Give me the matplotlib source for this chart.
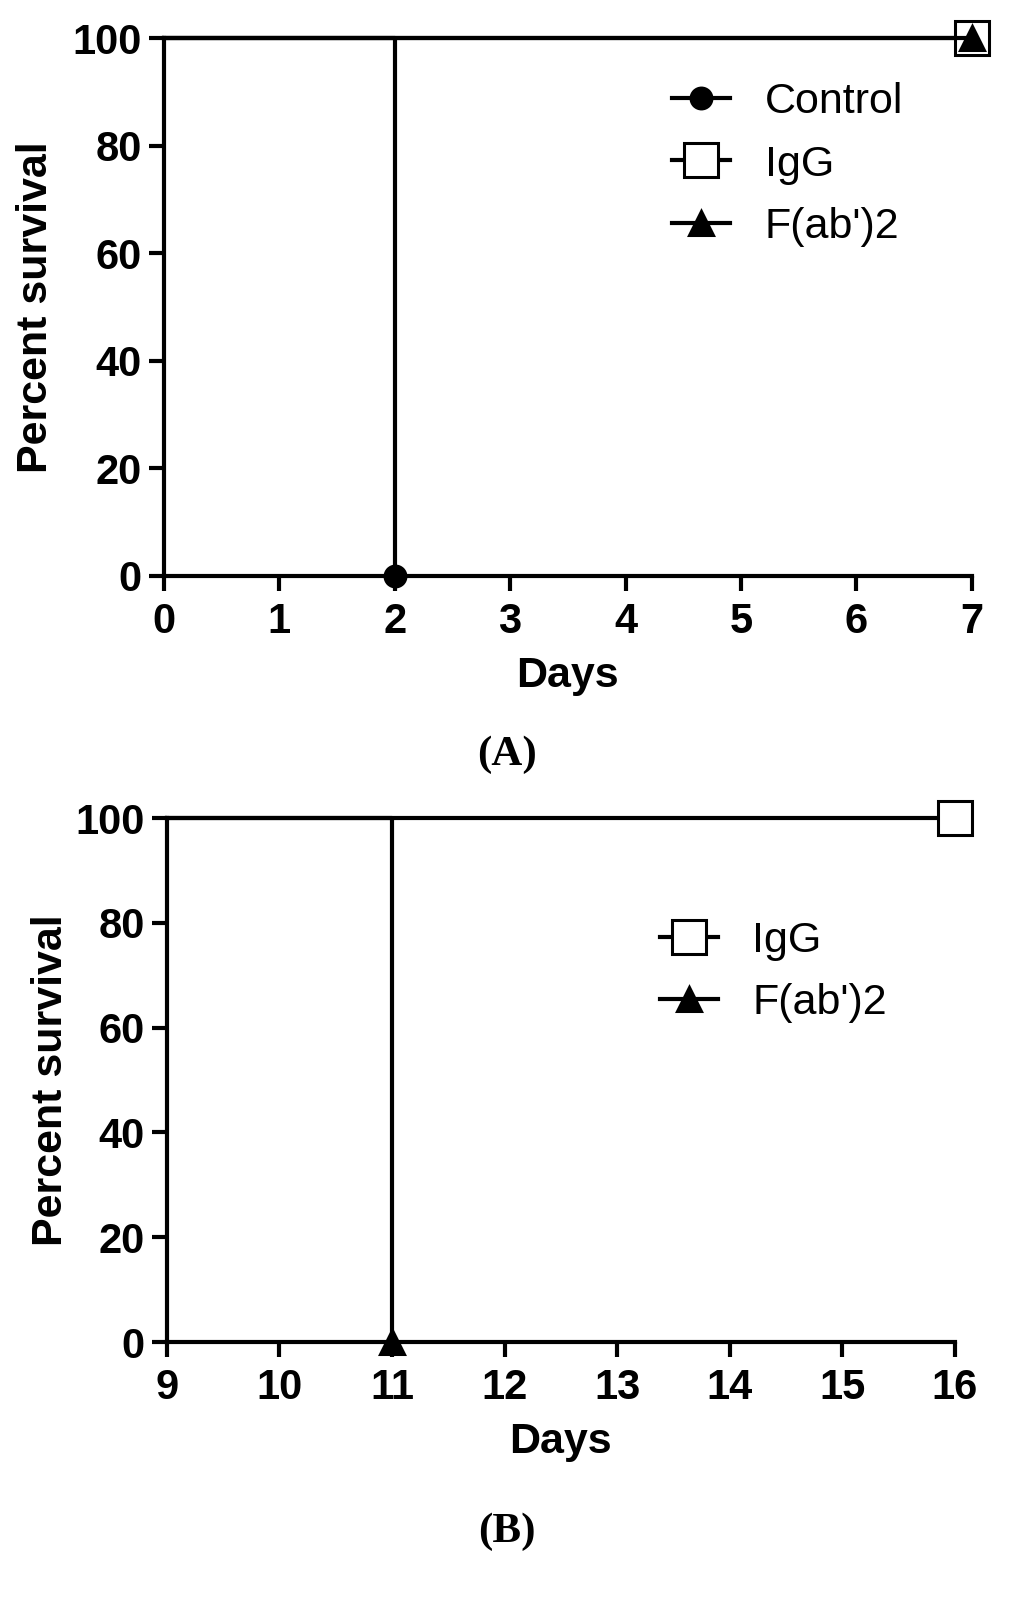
import matplotlib
matplotlib.use("Agg")
import matplotlib.pyplot as plt

plt.rcParams["font.family"] = ["Liberation Sans", "DejaVu Sans"]

# Panel A data
a_control_days = [0, 2]
a_control_surv = [100, 0]
a_igg_days = [0, 7]
a_igg_surv = [100, 100]
a_fab_days = [0, 7]
a_fab_surv = [100, 100]
a_xticks = [0, 1, 2, 3, 4, 5, 6, 7]

# Panel B data
b_igg_days = [9, 16]
b_igg_surv = [100, 100]
b_fab_days = [9, 11]
b_fab_surv = [100, 0]
b_xticks = [9, 10, 11, 12, 13, 14, 15, 16]

y_ticks = [0, 20, 40, 60, 80, 100]

LW = 3.0
TICK_FS = 30
LABEL_FS = 31
LEGEND_FS = 31


def style_axes(ax, xticks):
    ax.set_xlim(xticks[0], xticks[-1])
    ax.set_ylim(0, 100)
    ax.set_xticks(xticks)
    ax.set_yticks(y_ticks)
    for side in ("top", "right"):
        ax.spines[side].set_visible(False)
    for side in ("left", "bottom"):
        ax.spines[side].set_linewidth(LW)
    ax.tick_params(direction="out", length=11, width=LW, labelsize=TICK_FS)
    ax.tick_params(axis="y", pad=5)
    ax.tick_params(axis="x", pad=8)
    for lab in ax.get_xticklabels() + ax.get_yticklabels():
        lab.set_fontweight("bold")
    ax.set_xlabel("Days", fontsize=LABEL_FS, fontweight="bold", labelpad=10)
    ax.set_ylabel("Percent survival", fontsize=LABEL_FS, fontweight="bold")


def survival(ax, days, surv, marker, ms, face, label):
    ax.plot(days, surv, drawstyle="steps-post", color="black", lw=LW,
            marker=marker, markersize=ms, markerfacecolor=face,
            markeredgecolor="black", markeredgewidth=2.2, markevery=[len(days) - 1],
            clip_on=False, label=label, zorder=3)


fig = plt.figure(figsize=(10.24, 15.98), dpi=100)

ax1 = fig.add_axes([0.160, 0.6396, 0.789, 0.3366])
survival(ax1, a_igg_days, a_igg_surv, "s", 24, "white", "IgG")
survival(ax1, a_fab_days, a_fab_surv, "^", 17, "black", "F(ab')2")
survival(ax1, a_control_days, a_control_surv, "o", 15, "black", "Control")
style_axes(ax1, a_xticks)
h, l = ax1.get_legend_handles_labels()
order = [2, 0, 1]
ax1.legend([h[i] for i in order], [l[i] for i in order], loc="upper left",
           bbox_to_anchor=(0.581, 0.99), frameon=False, fontsize=LEGEND_FS,
           handlelength=1.35, handletextpad=0.8, labelspacing=0.52)
ax1.yaxis.set_label_coords(-0.134, 0.5)

ax2 = fig.add_axes([0.163, 0.1602, 0.7695, 0.3279])
survival(ax2, b_igg_days, b_igg_surv, "s", 24, "white", "IgG")
survival(ax2, b_fab_days, b_fab_surv, "^", 17, "black", "F(ab')2")
style_axes(ax2, b_xticks)
ax2.legend(loc="upper left", bbox_to_anchor=(0.576, 0.878), frameon=False,
           fontsize=LEGEND_FS, handlelength=1.35, handletextpad=0.8, labelspacing=0.52)
ax2.yaxis.set_label_coords(-0.122, 0.5)

fig.text(0.495, 1 - 755 / 1598, "(A)", ha="center", va="center", fontsize=31,
         fontweight="bold", family=["Liberation Serif", "DejaVu Serif"])
fig.text(0.495, 1 - 1532 / 1598, "(B)", ha="center", va="center", fontsize=31,
         fontweight="bold", family=["Liberation Serif", "DejaVu Serif"])

fig.savefig("out.png", dpi=100)
